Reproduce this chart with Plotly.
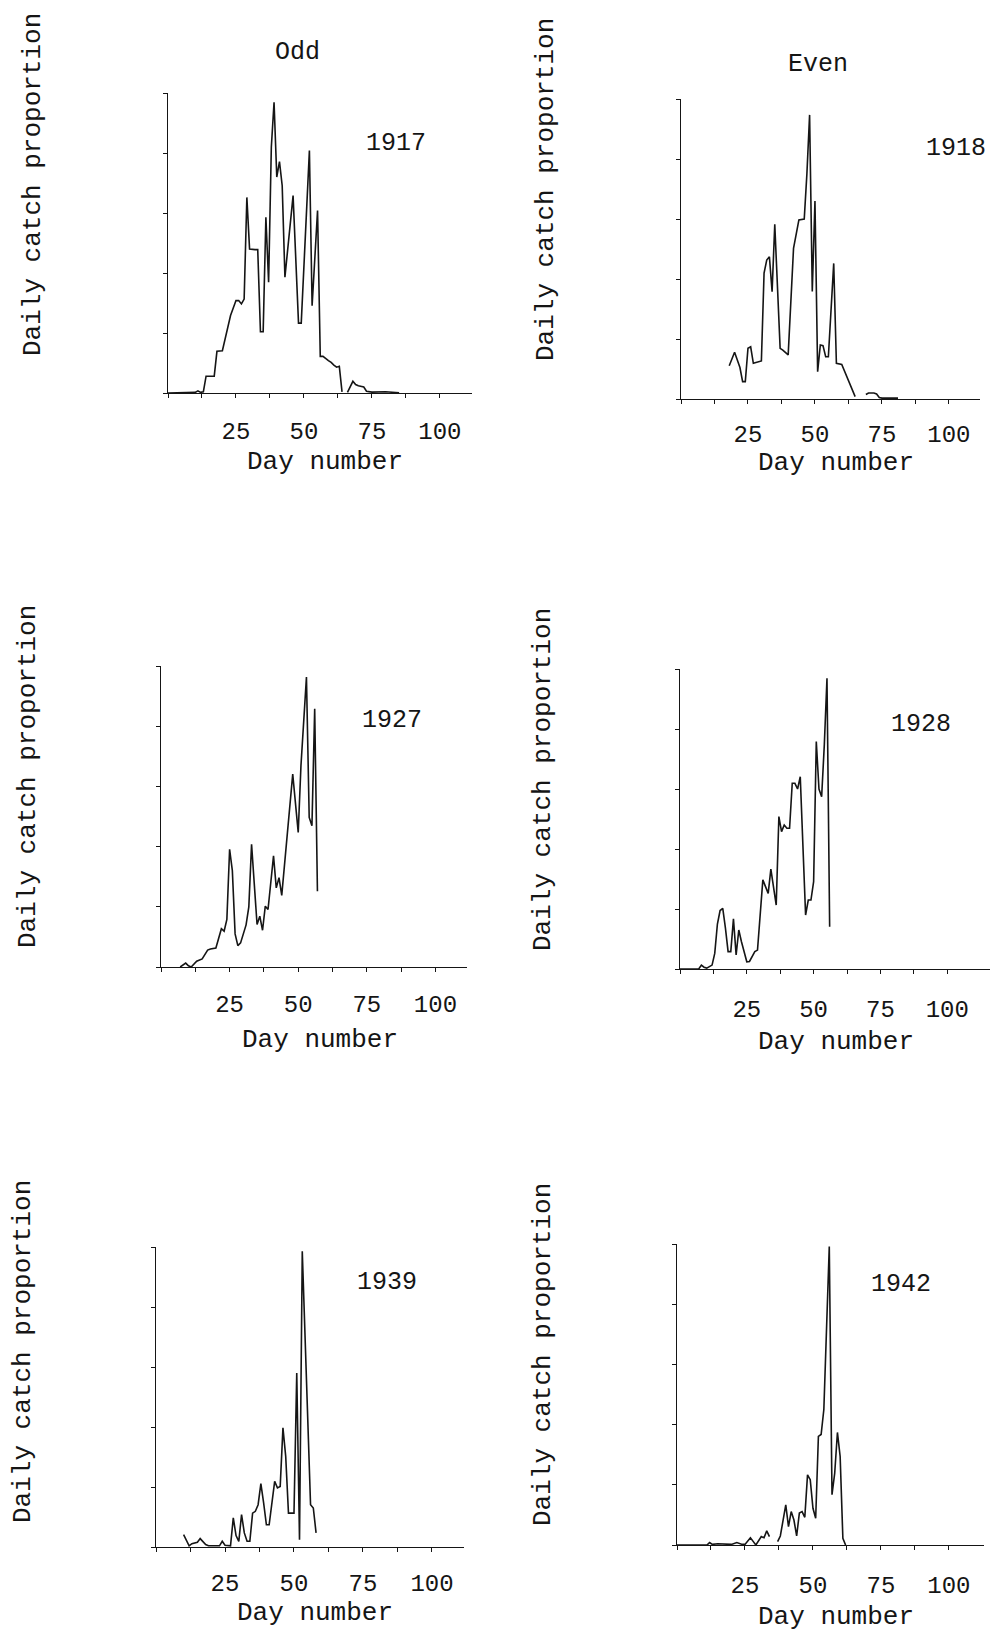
import plotly.graph_objects as go

# Daily catch proportion by day number, one series per season
days_1917 = [0, 10, 11, 12, 13, 14, 17, 18, 20, 22, 23, 25, 26, 27, 28, 29, 30, 32, 33, 34,
             35, 36, 37, 38, 39, 40, 41, 42, 43, 46, 48, 49, 52, 53, 55, 56, 57, 59, 60, 61,
             62, 63, 64, 65, 66, 68, 69, 70, 72, 73, 75, 80, 85]
catch_1917 = [0.0000, 0.0002, 0.0007, 0.0002, 0.0004, 0.0056, 0.0056, 0.0139, 0.0141, 0.0224,
              0.0258, 0.0308, 0.0308, 0.0297, 0.0313, 0.0652, 0.0480, 0.0478, 0.0478, 0.0204,
              0.0204, 0.0586, 0.0369, 0.0819, 0.0969, 0.0720, 0.0771, 0.0691, 0.0386, 0.0658,
              0.0233, 0.0233, 0.0808, 0.0291, 0.0608, 0.0122, 0.0122, 0.0108, 0.0102, 0.0093,
              0.0086, 0.0089, 0.0004, None, 0.0002, 0.0039, 0.0028, 0.0024, 0.0020, 0.0006,
              0.0003, 0.0004, 0.0001]

days_1918 = [18, 20, 22, 23, 24, 25, 26, 27, 30, 31, 32, 33, 34, 35, 37, 38, 40, 42, 44, 46,
             47, 48, 49, 50, 51, 52, 53, 54, 55, 57, 58, 60, 65, 66, 69, 70, 72, 73, 74, 75, 81]
catch_1918 = [0.0111, 0.0156, 0.0105, 0.0058, 0.0058, 0.0169, 0.0174, 0.0119, 0.0127, 0.0420,
              0.0463, 0.0474, 0.0358, 0.0582, 0.0169, 0.0163, 0.0147, 0.0502, 0.0597, 0.0600,
              0.0752, 0.0947, 0.0358, 0.0660, 0.0091, 0.0180, 0.0178, 0.0141, 0.0141, 0.0452,
              0.0119, 0.0115, 0.0008, None, 0.0015, 0.0020, 0.0020, 0.0017, 0.0005, 0.0003,
              0.0003]

days_1927 = [7, 9, 10, 11, 13, 15, 17, 18, 20, 22, 23, 24, 25, 26, 27, 28, 29, 30, 31, 32,
             33, 35, 36, 37, 38, 39, 41, 42, 43, 44, 46, 48, 50, 51, 53, 54, 55, 56, 57]
catch_1927 = [0.0000, 0.0013, 0.0004, 0.0000, 0.0019, 0.0027, 0.0056, 0.0060, 0.0063, 0.0127,
              0.0119, 0.0158, 0.0391, 0.0320, 0.0110, 0.0071, 0.0080, 0.0113, 0.0140, 0.0200,
              0.0408, 0.0141, 0.0169, 0.0122, 0.0202, 0.0191, 0.0369, 0.0263, 0.0297, 0.0238,
              0.0447, 0.0641, 0.0447, 0.0669, 0.0963, 0.0497, 0.0469, 0.0858, 0.0252]

days_1928 = [0, 7, 8, 9, 10, 12, 13, 14, 15, 16, 17, 18, 19, 20, 21, 22, 23, 25, 26, 28,
             29, 31, 33, 34, 36, 37, 38, 39, 40, 41, 42, 43, 44, 45, 47, 48, 49, 50, 51, 52,
             53, 54, 55, 56]
catch_1928 = [0.0000, 0.0000, 0.0013, 0.0006, 0.0003, 0.0013, 0.0052, 0.0150, 0.0195, 0.0202,
              0.0136, 0.0058, 0.0058, 0.0167, 0.0047, 0.0130, 0.0091, 0.0024, 0.0025, 0.0058,
              0.0063, 0.0297, 0.0252, 0.0333, 0.0213, 0.0508, 0.0458, 0.0480, 0.0469, 0.0469,
              0.0619, 0.0619, 0.0600, 0.0641, 0.0180, 0.0230, 0.0230, 0.0291, 0.0758, 0.0600,
              0.0574, 0.0747, 0.0969, 0.0141]

days_1939 = [10, 12, 13, 15, 16, 17, 18, 19, 23, 24, 25, 27, 28, 29, 30, 31, 32, 33, 34, 35,
             36, 37, 38, 39, 40, 41, 43, 44, 45, 46, 47, 48, 50, 51, 52, 53, 54, 55, 56, 57, 58]
catch_1939 = [0.0041, 0.0004, 0.0011, 0.0016, 0.0028, 0.0016, 0.0008, 0.0004, 0.0004, 0.0019,
              0.0006, 0.0004, 0.0097, 0.0038, 0.0019, 0.0108, 0.0047, 0.0019, 0.0019, 0.0113,
              0.0119, 0.0141, 0.0211, 0.0147, 0.0074, 0.0074, 0.0219, 0.0197, 0.0202, 0.0397,
              0.0302, 0.0113, 0.0113, 0.0580, 0.0024, 0.0986, 0.0690, 0.0400, 0.0141, 0.0130,
              0.0047]

days_1942 = [0, 11, 12, 13, 15, 20, 22, 24, 25, 27, 28, 29, 31, 32, 33, 34, 35, 37, 38, 40,
             41, 42, 43, 44, 45, 46, 47, 48, 49, 50, 51, 52, 53, 54, 55, 56, 57, 58, 59, 60,
             61, 62]
catch_1942 = [0.0000, 0.0000, 0.0008, 0.0002, 0.0004, 0.0002, 0.0008, 0.0002, 0.0002, 0.0024,
              0.0012, 0.0000, 0.0028, 0.0024, 0.0047, 0.0028, None, 0.0011, 0.0030, 0.0133,
              0.0061, 0.0111, 0.0083, 0.0030, 0.0106, 0.0111, 0.0092, 0.0233, 0.0217, 0.0122,
              0.0089, 0.0361, 0.0367, 0.0450, 0.0700, 0.0992, 0.0167, 0.0239, 0.0374, 0.0294,
              0.0022, 0.0000]

years = ["1917", "1918", "1927", "1928", "1939", "1942"]
series_days = [days_1917, days_1918, days_1927, days_1928, days_1939, days_1942]
series_catch = [catch_1917, catch_1918, catch_1927, catch_1928, catch_1939, catch_1942]

column_titles = ["Odd", "Even"]
x_tick_vals = [0, 12.5, 25, 37.5, 50, 62.5, 75, 87.5, 100]
x_tick_text = ["", "", "25", "", "50", "", "75", "", "100"]
y_tick_vals = [0, 0.02, 0.04, 0.06, 0.08, 0.10]
x_title = "Day number"
y_title = "Daily catch proportion"

# ---- page geometry (pixels) ----
W, H = 992, 1632
FONT = "Liberation Mono"
INK = "#151515"

# per panel: left, right, top, bottom of the axes box, x-axis extent in days,
# and the gap between the axis and its tick labels
panels = [
    dict(l=168, r=472, t=93, b=393, xmax=111.8, standoff=12),
    dict(l=681, r=980, t=99, b=399, xmax=111.6, standoff=9),
    dict(l=161, r=467, t=666, b=967, xmax=111.5, standoff=11),
    dict(l=680, r=990, t=669, b=969, xmax=116.0, standoff=14),
    dict(l=156, r=464, t=1247, b=1547, xmax=111.6, standoff=10),
    dict(l=677, r=984, t=1244, b=1545, xmax=112.9, standoff=14),
]
# annotation anchors: year label, x-title, y-title centres
year_pos = [(396, 143), (956, 148), (392, 720), (921, 724), (387, 1282), (901, 1284)]
xtitle_pos = [(325, 462), (836, 463), (320, 1040), (836, 1042), (315, 1613), (836, 1617)]
ytitle_pos = [(33, 185), (546, 190), (28, 777), (543, 780), (23, 1352), (543, 1355)]
coltitle_pos = [(297, 53), (818, 65)]


def px(x):
    return x / W


def py(y):
    return 1 - y / H


fig = go.Figure()
layout = dict(
    width=W, height=H,
    margin=dict(l=0, r=0, t=0, b=0),
    paper_bgcolor="white", plot_bgcolor="white",
    showlegend=False,
    font=dict(family=FONT, color=INK),
    annotations=[],
)

for i, (yr, d, c, p) in enumerate(zip(years, series_days, series_catch, panels)):
    n = "" if i == 0 else str(i + 1)
    fig.add_trace(go.Scatter(
        x=d, y=c, mode="lines", name=yr,
        line=dict(color=INK, width=1.6, shape="linear"),
        connectgaps=False, hoverinfo="x+y",
        xaxis="x" + n, yaxis="y" + n,
    ))
    layout["xaxis" + n] = dict(
        domain=[px(p["l"]), px(p["r"])], range=[0, p["xmax"]],
        anchor="y" + n,
        showline=True, linecolor=INK, linewidth=1.4,
        ticks="outside", ticklen=4, tickwidth=1.2, tickcolor=INK,
        tickmode="array", tickvals=x_tick_vals, ticktext=x_tick_text,
        tickfont=dict(family=FONT, size=24, color=INK),
        ticklabelstandoff=p["standoff"],
        showgrid=False, zeroline=False, fixedrange=True,
    )
    layout["yaxis" + n] = dict(
        domain=[py(p["b"]), py(p["t"])], range=[0, 0.10],
        anchor="x" + n,
        showline=True, linecolor=INK, linewidth=1.4,
        ticks="outside", ticklen=4, tickwidth=1.2, tickcolor=INK,
        tickmode="array", tickvals=y_tick_vals,
        showticklabels=False,
        showgrid=False, zeroline=False, fixedrange=True,
    )
    ax, ay = year_pos[i]
    layout["annotations"].append(dict(
        text=yr, x=px(ax), y=py(ay), xref="paper", yref="paper",
        xanchor="center", yanchor="middle", showarrow=False,
        font=dict(family=FONT, size=25, color=INK),
    ))
    tx, ty = xtitle_pos[i]
    layout["annotations"].append(dict(
        text=x_title, x=px(tx), y=py(ty), xref="paper", yref="paper",
        xanchor="center", yanchor="middle", showarrow=False,
        font=dict(family=FONT, size=26, color=INK),
    ))
    vx, vy = ytitle_pos[i]
    layout["annotations"].append(dict(
        text=y_title, x=px(vx), y=py(vy), xref="paper", yref="paper",
        xanchor="center", yanchor="middle", showarrow=False, textangle=-90,
        font=dict(family=FONT, size=26, color=INK),
    ))

for title, (cx, cy) in zip(column_titles, coltitle_pos):
    layout["annotations"].append(dict(
        text=title, x=px(cx), y=py(cy), xref="paper", yref="paper",
        xanchor="center", yanchor="middle", showarrow=False,
        font=dict(family=FONT, size=25, color=INK),
    ))

fig.update_layout(**layout)
fig.write_html("out.html")
